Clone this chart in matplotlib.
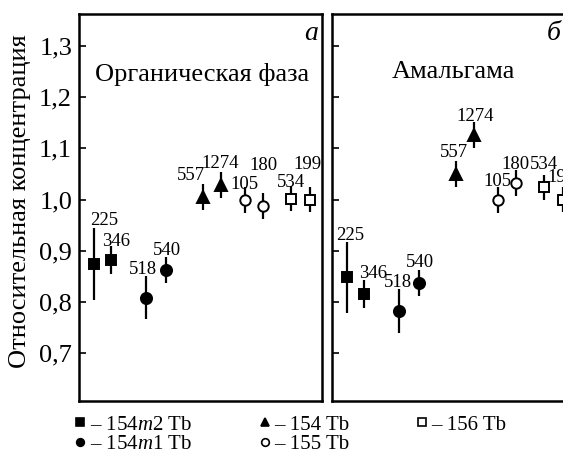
import matplotlib
matplotlib.use('Agg')
import matplotlib.pyplot as plt
from matplotlib.lines import Line2D
from matplotlib.ticker import FuncFormatter

plt.rcParams['font.family'] = ['Liberation Serif', 'DejaVu Serif']
plt.rcParams['mathtext.fontset'] = 'custom'
plt.rcParams['mathtext.rm'] = 'Liberation Serif'
plt.rcParams['mathtext.it'] = 'Liberation Serif:italic'

# data: one point per gamma line
isotopes = ['154m2', '154m2', '154m1', '154m1', '154', '154', '155', '155', '156', '156']
energies = ['225', '346', '518', '540', '557', '1274', '105', '180', '534', '199']
xpos = [0.60, 1.32, 2.76, 3.56, 5.10, 5.84, 6.85, 7.59, 8.72, 9.49]

org_val = [0.875, 0.882, 0.808, 0.863, 1.005, 1.029, 0.999, 0.987, 1.002, 1.000]
org_err = [0.070, 0.027, 0.042, 0.025, 0.026, 0.025, 0.025, 0.025, 0.025, 0.025]
amal_val = [0.848, 0.816, 0.783, 0.837, 1.050, 1.126, 0.999, 1.032, 1.024, 1.000]
amal_err = [0.070, 0.027, 0.043, 0.025, 0.025, 0.025, 0.025, 0.025, 0.024, 0.025]

# label offsets in pixels from top of error bar
org_lab = [(11, 2.5), (5, 0.5), (-3, 2.5), (1, 2), (-12, 3.5), (-1, 3.5),
           (-1, -1.5), (0, 23.5), (0, -1.5), (-2, 17.5)]
amal_lab = [(4, 1.5), (9, 2), (-1, 1.5), (1, 3.5), (-2, 4), (1, 1.5),
            (-1, 1.5), (-1, 1), (0, 6), (-1, 4.5)]

styles = {
    '154m2': dict(marker='s', ms=7.5, mfc='black', label='– 154$m$2 Tb'),
    '154m1': dict(marker='o', ms=8.0, mfc='black', label='– 154$m$1 Tb'),
    '154': dict(marker='^', ms=8.0, mfc='black', label='– 154 Tb'),
    '155': dict(marker='o', ms=7.5, mfc='white', label='– 155 Tb'),
    '156': dict(marker='s', ms=6.5, mfc='white', label='– 156 Tb'),
}

W, H = 563, 457
fig = plt.figure(figsize=(W / 100, H / 100), dpi=100)
ax1 = fig.add_axes([79 / W, 56 / H, 243 / W, 387 / H])
ax2 = fig.add_axes([332 / W, 56 / H, 243 / W, 387 / H])


def draw(ax, vals, errs, labs):
    for x, v, e, iso, en, (dx, dy) in zip(xpos, vals, errs, isotopes, energies, labs):
        st = styles[iso]
        ax.errorbar(x, v, yerr=e, fmt='none', ecolor='black', elinewidth=1.6, capsize=0)
        ax.plot(x, v, marker=st['marker'], ms=st['ms'], mfc=st['mfc'], mec='black',
                mew=1.4, ls='none')
        ax.annotate(en, (x, v + e), xytext=(dx, dy), textcoords='offset pixels',
                    ha='center', va='baseline', fontsize=13.5)
    ax.set_xlim(0, 10)
    ax.set_ylim(0.607, 1.362)
    ax.set_xticks([])
    ax.set_yticks([0.7, 0.8, 0.9, 1.0, 1.1, 1.2, 1.3])
    ax.tick_params(axis='y', direction='in', length=5, width=1.2, labelsize=19, pad=5)
    for s in ax.spines.values():
        s.set_linewidth(1.8)


draw(ax1, org_val, org_err, org_lab)
draw(ax2, amal_val, amal_err, amal_lab)
ax1.yaxis.set_major_formatter(FuncFormatter(lambda v, p: f'{v:.1f}'.replace('.', ',')))
ax2.set_yticklabels([])

ax1.text(16 / 243, 1 - 60 / 387, 'Органическая фаза', transform=ax1.transAxes,
         fontsize=19, ha='left', va='center')
ax2.text(60 / 243, 1 - 58 / 387, 'Амальгама', transform=ax2.transAxes,
         fontsize=19, ha='left', va='center')
ax1.text(0.955, 1 - 20 / 387, 'а', transform=ax1.transAxes, fontsize=20,
         style='italic', ha='center', va='center')
ax2.text(222 / 243, 1 - 20 / 387, 'б', transform=ax2.transAxes, fontsize=20,
         style='italic', ha='center', va='center')

fig.text(20 / W, 1 - 201 / H, 'Относительная концентрация', rotation=90,
         ha='center', va='center', fontsize=19)

handles = [Line2D([], [], ls='none', marker=styles[k]['marker'], ms=5.5,
                  mfc=styles[k]['mfc'], mec='black', mew=1.2, label=styles[k]['label'])
           for k in ['154m2', '154m1', '154', '155', '156']]
fig.legend(handles=handles, ncols=3, loc='upper left', bbox_to_anchor=(74 / W, 1 - 415 / H),
           frameon=False, fontsize=15, handlelength=0.6, handletextpad=0.15,
           columnspacing=3.2, labelspacing=0.0, borderpad=0, borderaxespad=0)

fig.savefig('out.png', dpi=100)
